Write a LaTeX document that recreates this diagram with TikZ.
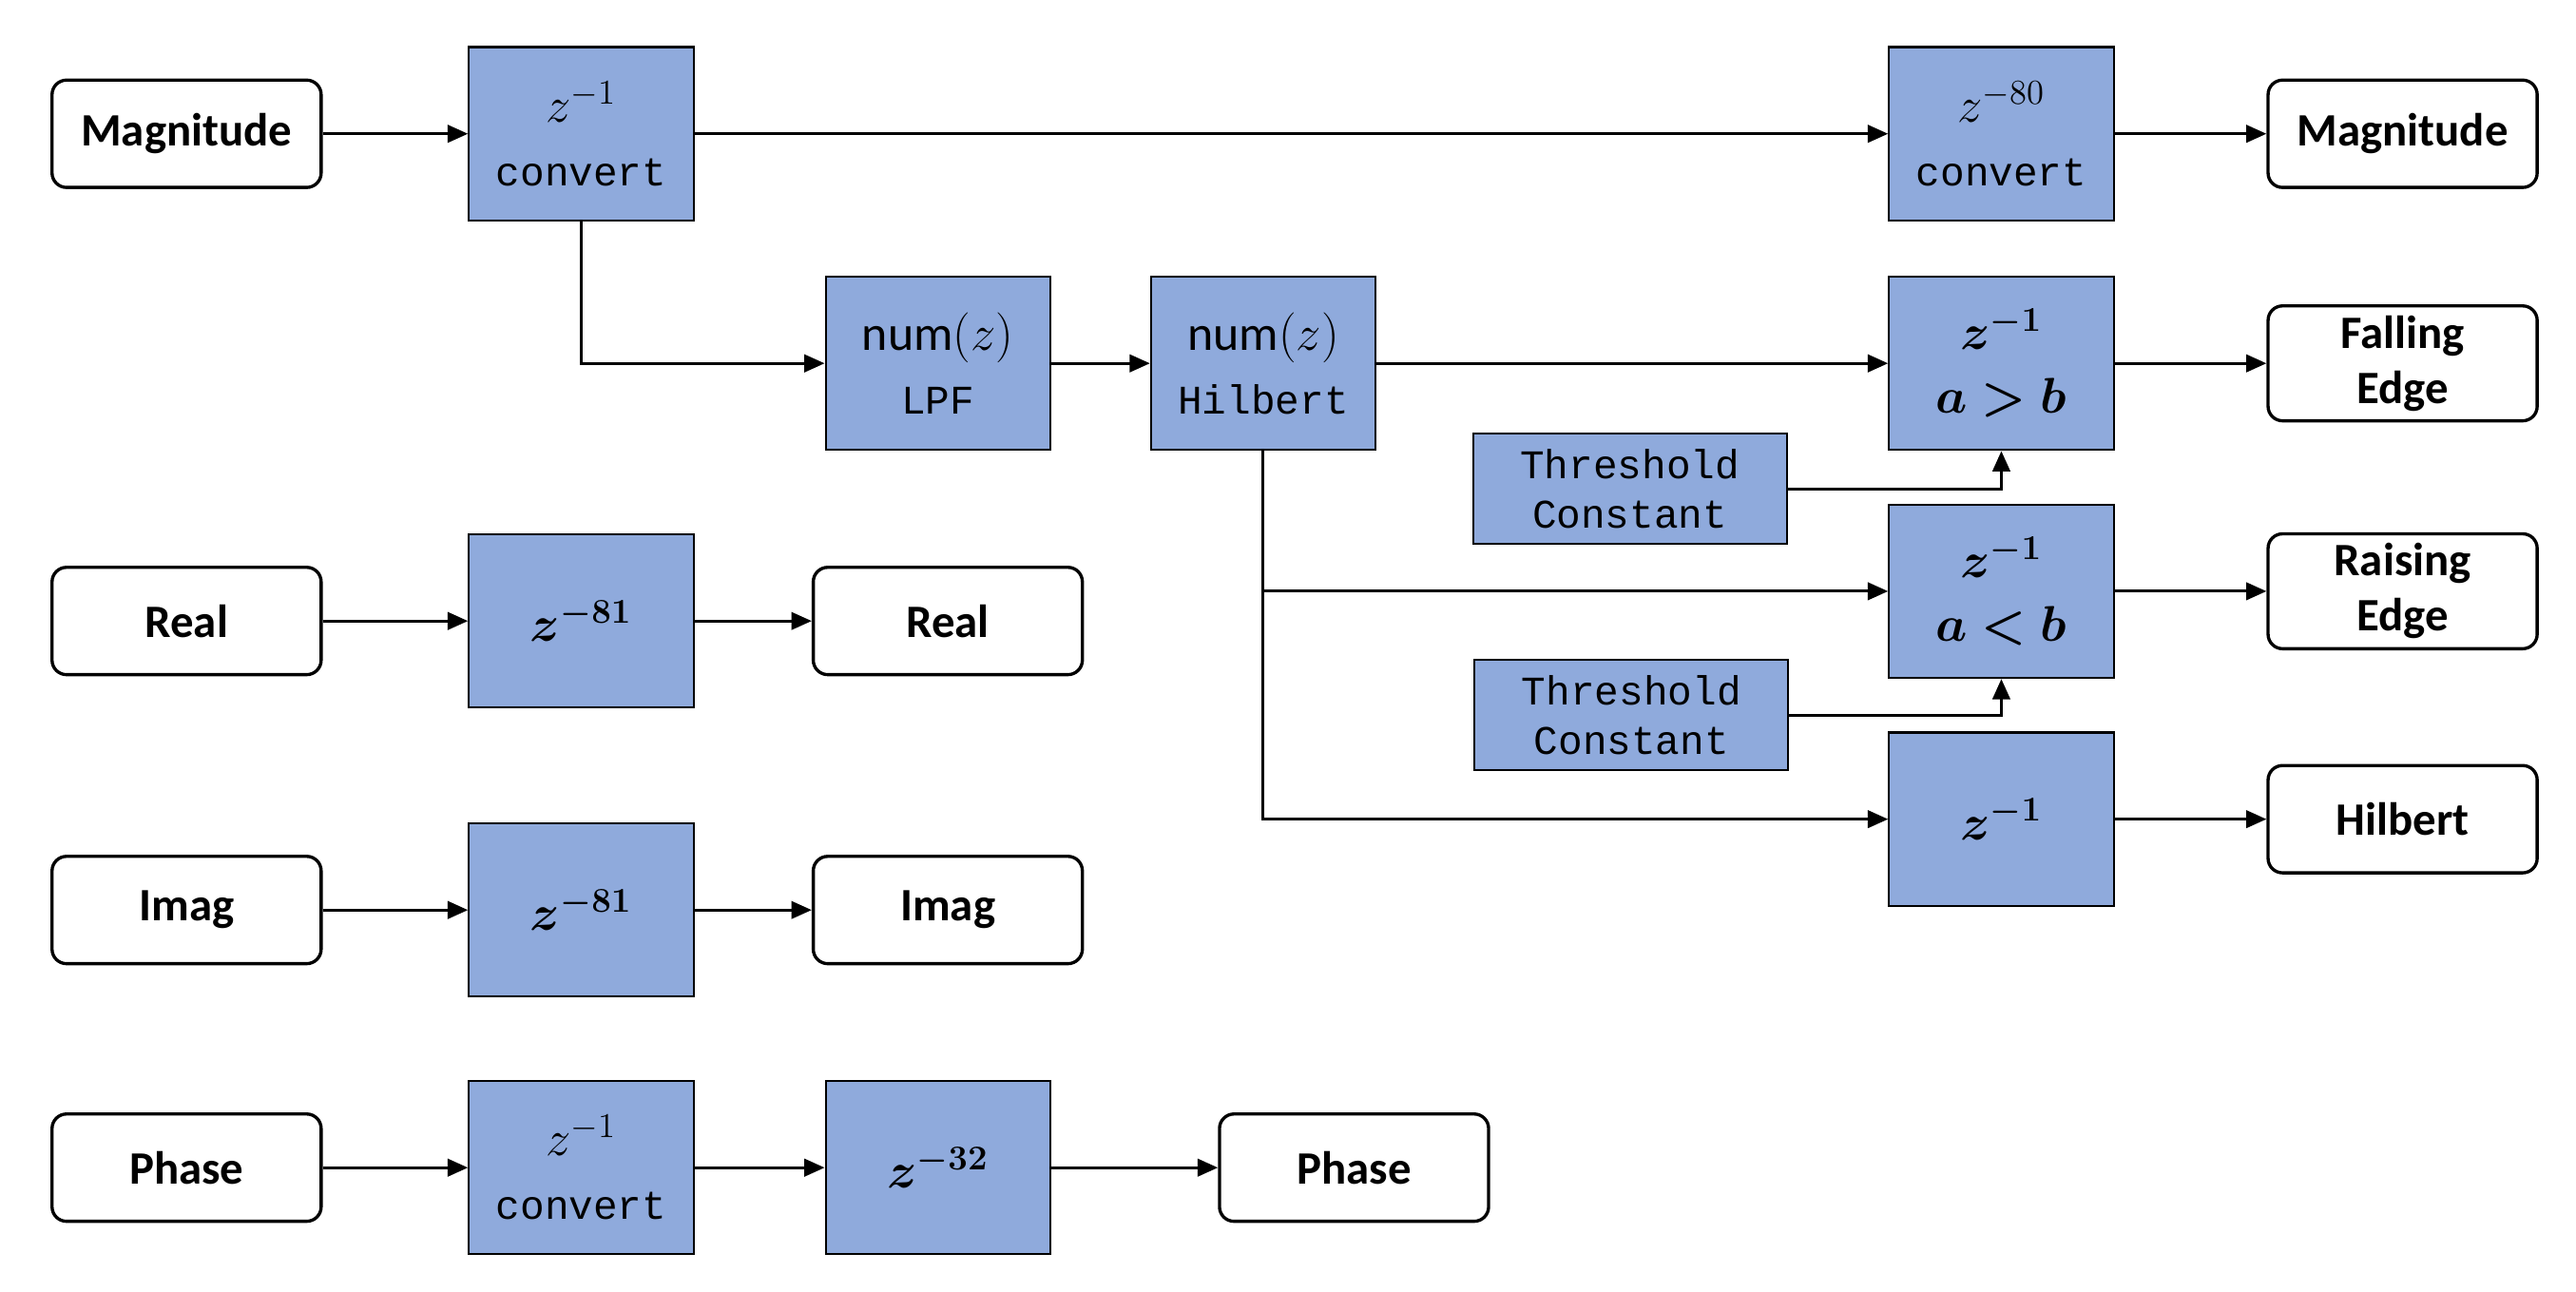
\documentclass[tikz,border=0pt]{standalone}
\usepackage{amsmath,bm}
\usepackage{fontspec}
\setmainfont{Carlito}
\newfontfamily\monofont{Liberation Mono}
\usetikzlibrary{arrows.meta}
\definecolor{blockblue}{HTML}{8FAADC}
\tikzset{
  port/.style={draw, line width=1.1pt, rounded corners=5pt, minimum width=3.26cm, minimum height=1.3cm, align=center, font=\fontsize{16}{19}\selectfont\bfseries},
  block/.style={draw, fill=blockblue, line width=0.7pt, minimum width=2.72cm, minimum height=2.1cm, align=center, font=\fontsize{17}{22}\selectfont},
  thr/.style={draw, fill=blockblue, line width=0.7pt, minimum width=3.8cm, minimum height=1.34cm, align=center, font=\fontsize{14}{17}\selectfont\monofont},
  sig/.style={-{Triangle[length=7pt,width=6pt]}, line width=1pt}
}
\newcommand{\mono}[1]{{\fontsize{14}{17}\selectfont\monofont #1}}
\begin{document}
\begin{tikzpicture}[x=0.02cm, y=-0.02cm]
\useasboundingbox (0,0) rectangle (1560,782);
% magnitude path
\node[port] (magin) at (113,81) {Magnitude};
\node[block] (cvt1) at (352,81) {$z^{-1}$\\\mono{convert}};
\node[block] (cvt80) at (1212,81) {$z^{-80}$\\\mono{convert}};
\node[port] (magout) at (1455,81) {Magnitude};
\node[block] (lpf) at (568,220) {num$(z)$\\\mono{LPF}};
\node[block] (hilb) at (765,220) {num$(z)$\\\mono{Hilbert}};
\node[block] (gt) at (1212,220) {$\bm{z^{-1}}$\\$\bm{a>b}$};
\node[port] (fall) at (1455,220) {Falling\\Edge};
\node[thr] (thr1) at (987,296) {Threshold\\Constant};
\node[block] (lt) at (1212,358) {$\bm{z^{-1}}$\\$\bm{a<b}$};
\node[port] (rise) at (1455,358) {Raising\\Edge};
\node[thr] (thr2) at (988,433) {Threshold\\Constant};
\node[block] (dly) at (1212,496) {$\bm{z^{-1}}$};
\node[port] (hout) at (1455,496) {Hilbert};
% real / imag / phase
\node[port] (rin) at (113,376) {Real};
\node[block] (rd) at (352,376) {$\bm{z^{-81}}$};
\node[port] (rout) at (574,376) {Real};
\node[port] (iin) at (113,551) {Imag};
\node[block] (id) at (352,551) {$\bm{z^{-81}}$};
\node[port] (iout) at (574,551) {Imag};
\node[port] (pin) at (113,707) {Phase};
\node[block] (pc) at (352,707) {$z^{-1}$\\\mono{convert}};
\node[block] (pd) at (568,707) {$\bm{z^{-32}}$};
\node[port] (pout) at (820,707) {Phase};

\draw[sig] (magin) -- (cvt1);
\draw[sig] (cvt1) -- (cvt80);
\draw[sig] (cvt80) -- (magout);
\draw[sig] (cvt1.south) |- (lpf.west);
\draw[sig] (lpf) -- (hilb);
\draw[sig] (hilb) -- (gt);
\draw[sig] (gt) -- (fall);
\draw[sig] (thr1.east) -| (gt.south);
\draw[sig] (hilb.south) |- (lt.west);
\draw[sig] (hilb.south) |- (dly.west);
\draw[sig] (lt.east) -- (rise.west |- lt.east);
\draw[sig] (thr2.east) -| (lt.south);
\draw[sig] (dly) -- (hout);
\draw[sig] (rin) -- (rd);
\draw[sig] (rd) -- (rout);
\draw[sig] (iin) -- (id);
\draw[sig] (id) -- (iout);
\draw[sig] (pin) -- (pc);
\draw[sig] (pc) -- (pd);
\draw[sig] (pd) -- (pout);
\end{tikzpicture}
\end{document}
